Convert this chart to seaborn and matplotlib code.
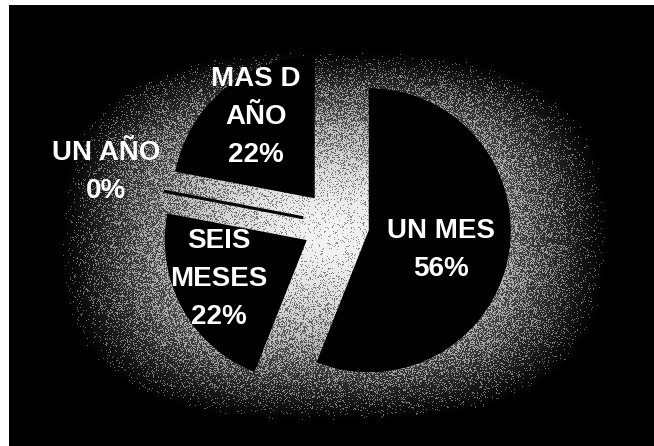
import numpy as np
import matplotlib
matplotlib.use("Agg")
import matplotlib.pyplot as plt
import seaborn as sns

# Share of responses per waiting period
categories = ["UN MES", "SEIS\nMESES", "UN AÑO", "MAS D\nAÑO"]
percentages = [56, 22, 0, 22]

W, H = 654, 446

sns.set_theme(style="white")
plt.rcParams["font.family"] = ["Liberation Sans", "DejaVu Sans"]

fig = plt.figure(figsize=(W / 100, H / 100), dpi=100, facecolor="white")
ax = fig.add_axes([0, 0, 1, 1])

# Backdrop: black panel with a grainy glow spreading from behind the pie
left, top = 9, 5
yy, xx = np.mgrid[top:H, left:W] + 0.5
gx, gy, grx, gry = 334, 236, 272, 184
p = 2.8
d = (np.abs((xx - gx) / grx) ** p + np.abs((yy - gy) / gry) ** p) ** (1 / p)
glow = 0.92 * np.clip(1 - d ** 1.7, 0, 1)
rng = np.random.default_rng(7)
grain = (rng.random(glow.shape) < glow).astype(float)
shade = 0.6 * glow + 0.4 * grain
ax.imshow(shade, cmap="gray", vmin=0, vmax=1, extent=(left, W, 0, H - top),
          origin="upper", interpolation="nearest", zorder=0)

# Exploded pie, all wedges black
radius = 142
wedges, _ = ax.pie(percentages, explode=[0.235 * radius] * len(percentages),
                   startangle=90, counterclock=False,
                   colors=["black"] * len(percentages),
                   radius=radius, center=(336, H - 224),
                   wedgeprops=dict(linewidth=0), frame=True)
for w, v in zip(wedges, percentages):
    w.set_zorder(2)
    if v == 0:
        w.set_edgecolor("black")
        w.set_linewidth(2.2)

# Labels: category name lines followed by the percentage
label_pos = [(441, 238), (219, 248), (106, 160), (256, 86)]
line_step = 38
for name, v, (x, y0) in zip(categories, percentages, label_pos):
    lines = name.split("\n") + [f"{v}%"]
    for i, s in enumerate(lines):
        ax.text(x, H - (y0 + i * line_step), s, color="white", fontsize=20,
                fontweight="bold", ha="center", va="baseline", zorder=5)

ax.set_xlim(0, W)
ax.set_ylim(0, H)
ax.set_aspect("equal")
ax.set_axis_off()

fig.savefig("out.png", dpi=100, facecolor="white")
